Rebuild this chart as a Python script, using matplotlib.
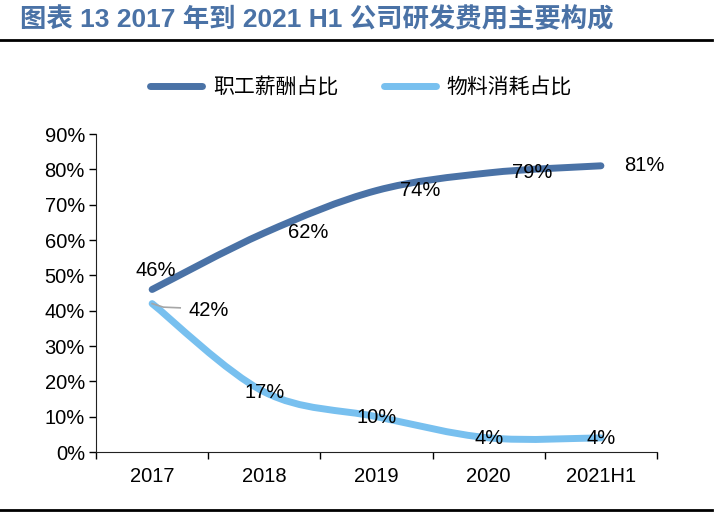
import numpy as np
import matplotlib.pyplot as plt
from matplotlib.path import Path
from matplotlib.patches import PathPatch
from matplotlib.lines import Line2D

plt.rcParams['font.family'] = ['Liberation Sans', 'Noto Sans CJK SC', 'DejaVu Sans']

years = ['2017', '2018', '2019', '2020', '2021H1']
salary = [0.46, 0.62, 0.74, 0.79, 0.81]
material = [0.42, 0.17, 0.10, 0.04, 0.04]
yticks = [0, 0.1, 0.2, 0.3, 0.4, 0.5, 0.6, 0.7, 0.8, 0.9]

dark = '#4A72A6'
light = '#78C0EF'


def smooth_path(xs, ys, t=0.5):
    # catmull-rom -> cubic bezier segments
    xs = np.asarray(xs, float)
    ys = np.asarray(ys, float)
    verts = [(xs[0], ys[0])]
    codes = [Path.MOVETO]
    n = len(xs)
    for i in range(n - 1):
        p0 = np.array([xs[max(i - 1, 0)], ys[max(i - 1, 0)]])
        p1 = np.array([xs[i], ys[i]])
        p2 = np.array([xs[i + 1], ys[i + 1]])
        p3 = np.array([xs[min(i + 2, n - 1)], ys[min(i + 2, n - 1)]])
        c1 = p1 + (p2 - p0) * t / 3
        c2 = p2 - (p3 - p1) * t / 3
        verts += [tuple(c1), tuple(c2), tuple(p2)]
        codes += [Path.CURVE4] * 3
    return Path(verts, codes)


fig = plt.figure(figsize=(7.22, 5.18), dpi=100)
ax = fig.add_axes([0.133, 0.1274, 0.777, 0.6139])

fs = 14.5
x = np.arange(len(years))
for vals, col in [(salary, dark), (material, light)]:
    ax.add_patch(PathPatch(smooth_path(x, vals), facecolor='none', edgecolor=col,
                           lw=5, capstyle='round', joinstyle='round'))

ax.set_xlim(-0.5, len(years) - 0.5)
ax.set_ylim(0, 0.9)
ax.set_yticks(yticks)
ax.set_yticklabels([f'{int(round(v * 100))}%' for v in yticks], fontsize=fs)
ax.set_xticks(x)
ax.set_xticklabels(years, fontsize=fs)
ax.set_xticks(np.arange(-0.5, len(years)), minor=True)
ax.tick_params(axis='x', which='major', length=0, pad=11)
ax.tick_params(axis='x', which='minor', length=5, direction='out', width=1)
ax.tick_params(axis='y', length=5, direction='out', width=1, pad=3)
for s in ['top', 'right']:
    ax.spines[s].set_visible(False)
ax.spines['left'].set_color('#222222')
ax.spines['bottom'].set_color('#222222')

# data labels
ax.text(x[0] + 0.03, salary[0] + 0.055, f'{salary[0]:.0%}', ha='center', va='center', fontsize=fs)
for i in range(1, len(years)):
    ax.text(x[i] + 0.39, salary[i], f'{salary[i]:.0%}', ha='center', va='center', fontsize=fs)
ax.text(x[0] + 0.5, material[0] - 0.02, f'{material[0]:.0%}', ha='center', va='center', fontsize=fs)
ax.plot([x[0], x[0] + 0.1, x[0] + 0.25], [material[0], material[0] - 0.01, material[0] - 0.012],
        color='#A6A6A6', lw=1.2)
for i in range(1, len(years)):
    ax.text(x[i], material[i] - 0.002, f'{material[i]:.0%}', ha='center', va='center', fontsize=fs)

# legend
handles = [Line2D([0], [0], color=dark, lw=5, solid_capstyle='round'),
           Line2D([0], [0], color=light, lw=5, solid_capstyle='round')]
fig.legend(handles, ['职工薪酬占比', '物料消耗占比'], loc='center', bbox_to_anchor=(0.5, 0.832),
           ncol=2, frameon=False, prop={'family': ['Noto Sans CJK SC'], 'size': 15},
           handlelength=2.5, columnspacing=2.2, handletextpad=0.5)

# title and rules
fig.text(0.028, 0.962, '图表 13 2017 年到 2021 H1 公司研发费用主要构成', color='#4A72A6',
         fontsize=19, fontweight='bold', ha='left', va='center',
         family=['Liberation Sans', 'Noto Sans CJK SC'])
fig.add_artist(Line2D([0, 0.986], [0.923, 0.923], color='black', lw=2))
fig.add_artist(Line2D([0, 0.986], [0.016, 0.016], color='black', lw=2))

fig.savefig('out.png', dpi=100)
